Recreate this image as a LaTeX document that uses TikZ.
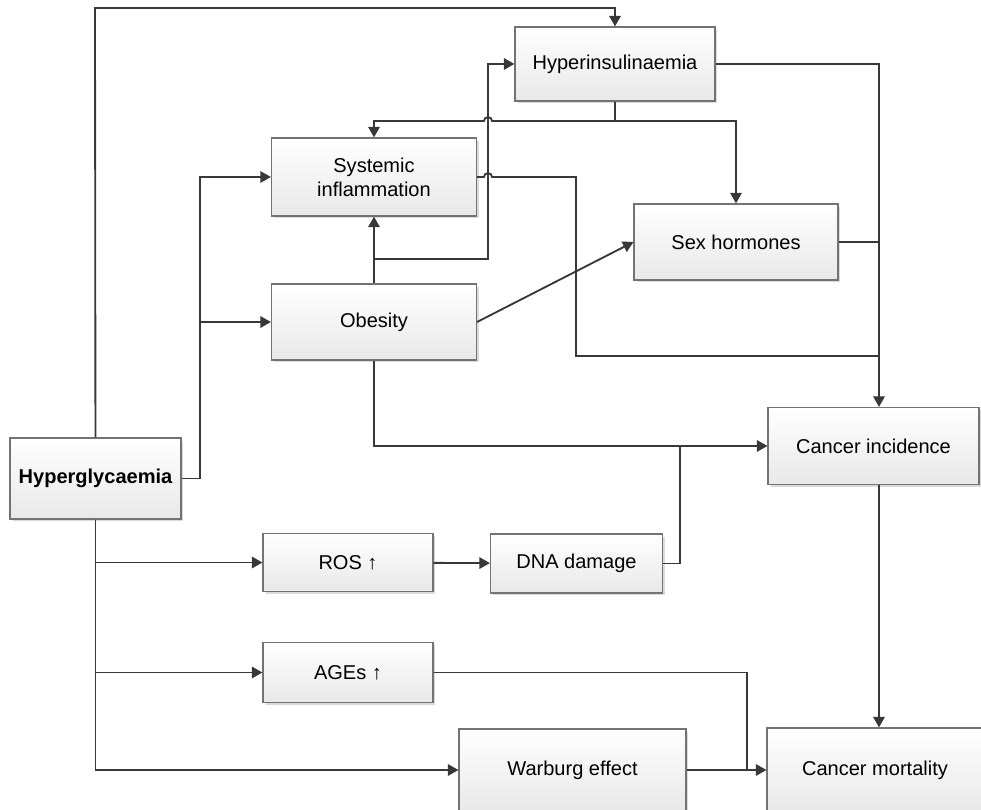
\documentclass[tikz,border=0pt]{standalone}
\usepackage{fontspec}
\setmainfont{Liberation Sans}
\usetikzlibrary{arrows.meta,shadows}
\begin{document}
\begin{tikzpicture}[x=0.02cm,y=-0.02cm,
    box_node/.style={draw=black!55,line width=0.65pt,top color=white,bottom color=black!9,
        drop shadow={shadow xshift=0.05cm,shadow yshift=-0.05cm,fill=black!14,opacity=1},
        align=center,font=\fontsize{11.4}{13.5}\selectfont,inner sep=2pt},
    link/.style={draw=black!78,line width=1.05pt},
    arr/.style={link,-{Triangle[length=6pt,width=6.5pt]}}]
    \useasboundingbox (0,0) rectangle (981,810);
    \node[box_node,minimum width=3.42cm,minimum height=1.62cm,font=\fontsize{11.4}{13.5}\selectfont\bfseries] (hyperglyc) at (95.5,478.5) {Hyperglycaemia};
    \node[box_node,minimum width=4cm,minimum height=1.48cm] (hyperins) at (615,64) {Hyperinsulinaemia};
    \node[box_node,minimum width=4.1cm,minimum height=1.56cm] (sysinfl) at (374,177) {Systemic\\inflammation};
    \node[box_node,minimum width=4.08cm,minimum height=1.52cm] (sexhorm) at (736,242) {Sex hormones};
    \node[box_node,minimum width=4.1cm,minimum height=1.52cm] (obesity) at (374,322) {Obesity};
    \node[box_node,minimum width=4.22cm,minimum height=1.54cm] (incid) at (873.5,446) {Cancer incidence};
    \node[box_node,minimum width=3.4cm,minimum height=1.16cm] (ros) at (348,562.5) {ROS ↑};
    \node[box_node,minimum width=3.44cm,minimum height=1.18cm] (dna) at (576.5,563.5) {DNA damage};
    \node[box_node,minimum width=3.4cm,minimum height=1.2cm] (ages) at (348,672.5) {AGEs ↑};
    \node[box_node,minimum width=4.54cm,minimum height=1.64cm] (warburg) at (572.5,770) {Warburg effect};
    \node[box_node,minimum width=4.32cm,minimum height=1.68cm] (mortality) at (875,770) {Cancer mortality};
    \coordinate (gsplit) at (200,322);
    \coordinate (isplit) at (615,121);
    \coordinate (osplit) at (374,259);
    \coordinate (bus) at (879,64);
    \draw[arr] (hyperglyc) -- (95,8) -| (hyperins);
    \draw[arr] (hyperglyc) -| (gsplit) |- (sysinfl);
    \draw[arr] (gsplit) -- (obesity);
    \draw[link] (hyperins) -- (isplit);
    \draw[arr] (isplit) -- (492,121) arc[start angle=0,end angle=180,radius=0.08cm] -| (sysinfl);
    \draw[arr] (isplit) -| (sexhorm);
    \draw[link] (sysinfl) -- (484,177) arc[start angle=180,end angle=0,radius=0.08cm] -- (576,177) |- (879,356);
    \draw[arr] (hyperins) -- (bus) -- (bus |- incid.north);
    \draw[link] (sexhorm) -- (sexhorm -| bus);
    \draw[arr] (obesity) -- (sysinfl);
    \draw[arr] (osplit) -- (488,259) -- (488,64) -- (hyperins);
    \draw[arr] (obesity.east) -- (sexhorm.west);
    \draw[arr] (obesity) |- (incid);
    \draw[arr] (ros) -- (dna);
    \draw[link] (dna) -| (680,446);
    \draw[arr] (hyperglyc) |- (warburg);
    \draw[arr] (hyperglyc.south |- ros) -- (ros);
    \draw[arr] (hyperglyc.south |- ages) -- (ages);
    \draw[link] (ages) -| (747,770);
    \draw[arr] (warburg) -- (mortality);
    \draw[arr] (incid.south -| bus) -- (mortality.north -| bus);
\end{tikzpicture}
\end{document}
